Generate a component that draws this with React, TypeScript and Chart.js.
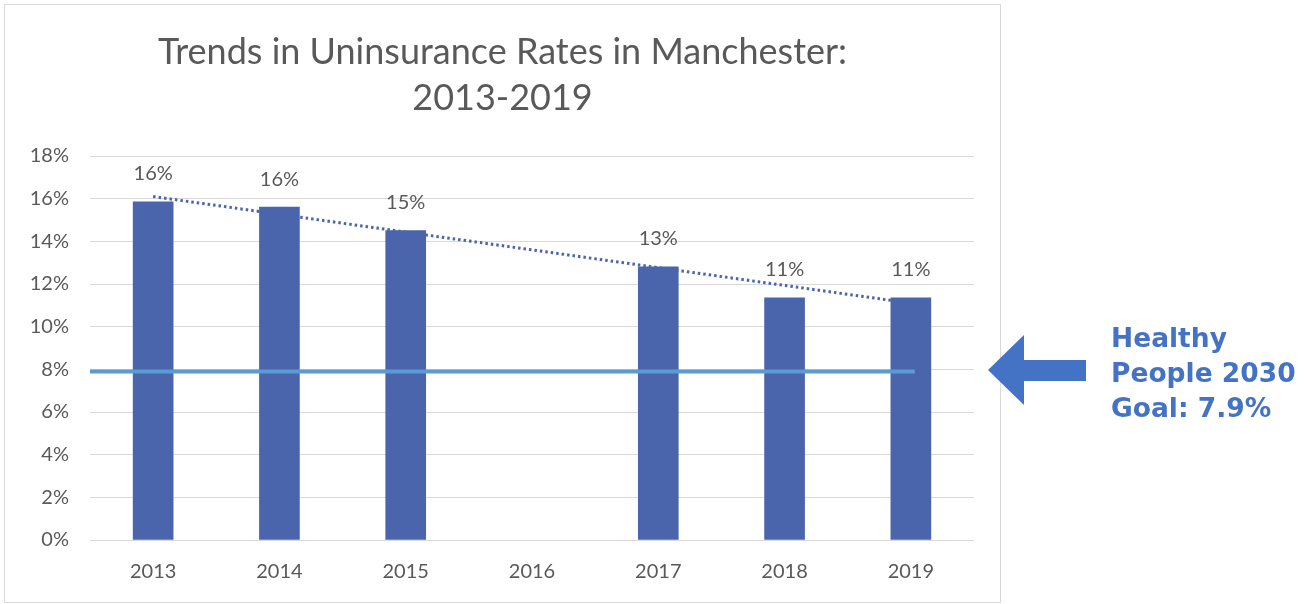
import React, { useEffect, useRef } from "react";
import { Chart, registerables } from "chart.js";
Chart.register(...registerables);

const years = ["2013", "2014", "2015", "2016", "2017", "2018", "2019"];
const rates: (number | null)[] = [15.85, 15.6, 14.5, null, 12.8, 11.35, 11.35];
const rateLabels = ["16%", "16%", "15%", "", "13%", "11%", "11%"];
const trend: (number | null)[] = [16.1, null, null, null, null, null, 11.1];
const goalValue = 7.9;
const yMin = 0;
const yMax = 18;
const yStep = 2;
const titleLines = ["Trends in Uninsurance Rates in Manchester:", "2013-2019"];
const noteLines = ["Healthy", "People 2030", "Goal: 7.9%"];

const GRAY = "#595959";
const BAR = "#4A65AB";
const GOAL = "#5B9BD5";
const FONT = "Lato, 'Open Sans', sans-serif";

export default function App() {
  const ref = useRef<HTMLCanvasElement | null>(null);

  useEffect(() => {
    document.body.style.margin = "0";
    const labelPlugin = {
      id: "barLabels",
      afterDatasetsDraw(chart: any) {
        const { ctx } = chart;
        const meta = chart.getDatasetMeta(0);
        ctx.save();
        ctx.font = `20px ${FONT}`;
        ctx.fillStyle = GRAY;
        ctx.textAlign = "center";
        ctx.textBaseline = "middle";
        meta.data.forEach((el: any, i: number) => {
          if (rates[i] == null) return;
          ctx.fillText(rateLabels[i], el.x, el.y - 28);
        });
        ctx.restore();
      },
    };
    const goalPlugin = {
      id: "goalLine",
      afterDatasetsDraw(chart: any) {
        const { ctx, chartArea } = chart;
        const y = chart.scales.y.getPixelForValue(goalValue);
        const xEnd = chart.scales.x.getPixelForValue(years.length - 1) + 4;
        ctx.save();
        ctx.strokeStyle = GOAL;
        ctx.lineWidth = 4;
        ctx.beginPath();
        ctx.moveTo(chartArea.left, y);
        ctx.lineTo(xEnd, y);
        ctx.stroke();
        ctx.restore();
      },
    };

    const chart = new Chart(ref.current!, {
      type: "bar",
      data: {
        labels: years,
        datasets: [
          {
            type: "bar",
            label: "Uninsured",
            data: rates,
            backgroundColor: BAR,
            barThickness: 40,
            order: 3,
          },
          {
            type: "line",
            label: "Trend",
            data: trend,
            borderColor: BAR,
            borderWidth: 3,
            borderDash: [2.5, 3],
            pointRadius: 0,
            spanGaps: true,
            fill: false,
            order: 1,
          } as any,
        ],
      },
      options: {
        animation: false,
        responsive: false,
        maintainAspectRatio: false,
        layout: { padding: { top: 151, right: 26, left: 0, bottom: 0 } },
        plugins: {
          legend: { display: false },
          tooltip: { enabled: false },
          title: { display: false },
        },
        scales: {
          x: {
            grid: { display: false, drawTicks: false },
            border: { display: false },
            ticks: { color: GRAY, font: { family: FONT, size: 20 }, padding: 20 },
            afterFit(s: any) {
              s.height = 62;
            },
          },
          y: {
            min: yMin,
            max: yMax,
            grid: { color: "#d9d9d9", lineWidth: 1, drawTicks: false },
            border: { display: false },
            ticks: {
              stepSize: yStep,
              color: GRAY,
              font: { family: FONT, size: 20 },
              padding: 21,
              callback: (v: any) => `${v}%`,
            },
            afterFit(s: any) {
              s.width = 85;
            },
          },
        },
      },
      plugins: [goalPlugin, labelPlugin],
    });
    return () => chart.destroy();
  }, []);

  return (
    <div style={{ position: "relative", width: 1309, height: 604, background: "#fff", overflow: "hidden" }}>
      <div
        style={{
          position: "absolute",
          left: 4,
          top: 4,
          width: 997,
          height: 599,
          border: "1px solid #d9d9d9",
          boxSizing: "border-box",
        }}
      >
        <canvas ref={ref} width={995} height={597} style={{ display: "block" }} />
      </div>
      <div
        style={{
          position: "absolute",
          left: 4,
          width: 997,
          top: 27,
          textAlign: "center",
          color: GRAY,
          fontFamily: FONT,
          fontWeight: 400,
          fontSize: 36,
          lineHeight: "46px",
        }}
      >
        {titleLines.map((t, i) => (
          <div key={i}>{t}</div>
        ))}
      </div>
      <svg style={{ position: "absolute", left: 0, top: 0 }} width={1309} height={604}>
        <polygon points="988,370 1024,335 1024,360 1086,360 1086,381 1024,381 1024,405" fill="#4472C4" />
      </svg>
      <div
        style={{
          position: "absolute",
          left: 1111,
          top: 320,
          color: "#4472C4",
          fontFamily: "'DejaVu Sans', sans-serif",
          fontWeight: 700,
          fontSize: 26.5,
          lineHeight: "35px",
          whiteSpace: "nowrap",
        }}
      >
        {noteLines.map((t, i) => (
          <div key={i}>{t}</div>
        ))}
      </div>
    </div>
  );
}
